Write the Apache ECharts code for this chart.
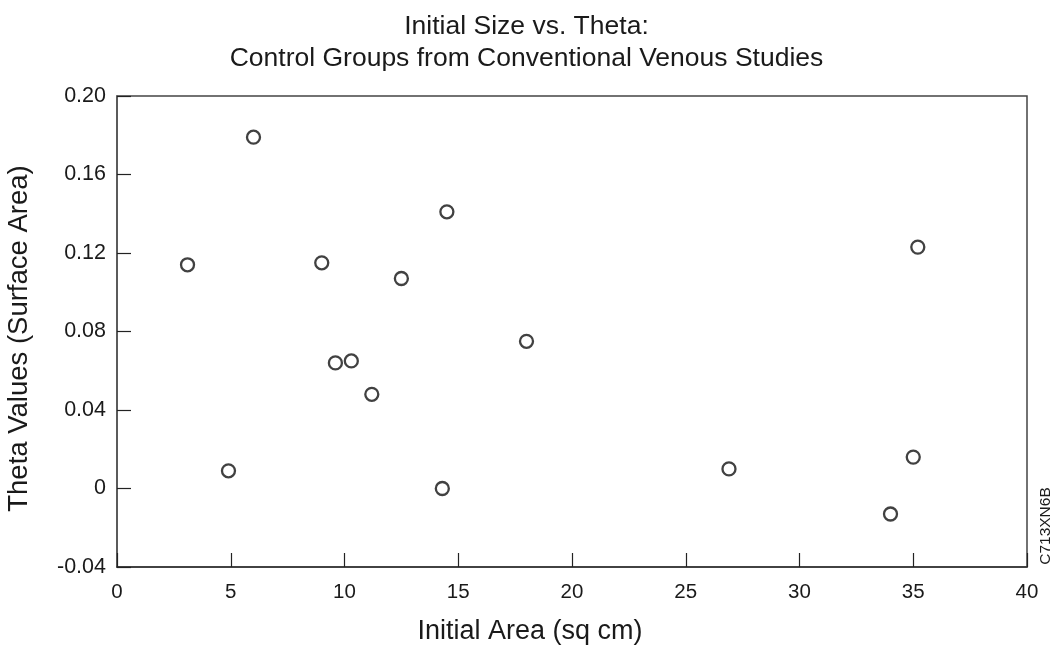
<!DOCTYPE html>
<html>
<head>
<meta charset="utf-8">
<script src="https://cdn.jsdelivr.net/npm/echarts@6/dist/echarts.min.js"></script>
<style>html,body{margin:0;padding:0;background:#fff;}#c{width:1053px;height:650px;}</style>
</head>
<body>
<div id="c"></div>
<script>
const titleLines = ["Initial Size vs. Theta:", "Control Groups from Conventional Venous Studies"];
const xName = "Initial Area (sq cm)";
const yName = "Theta Values (Surface Area)";
const sideLabel = "C713XN6B";
const initialArea = [3.1, 4.9, 6.0, 9.0, 9.6, 10.3, 11.2, 12.5, 14.5, 14.3, 18.0, 26.9, 34.0, 35.0, 35.2];
const thetaValues = [0.114, 0.009, 0.179, 0.115, 0.064, 0.065, 0.048, 0.107, 0.141, 0.0, 0.075, 0.010, -0.013, 0.016, 0.123];
const yTickLabels = {"0.2":"0.20","0.16":"0.16","0.12":"0.12","0.08":"0.08","0.04":"0.04","0":"0","-0.04":"-0.04"};

const data = initialArea.map((x, i) => [x, thetaValues[i]]);
const font = "'Liberation Sans', Arial, Helvetica, sans-serif";
const chart = echarts.init(document.getElementById('c'));
chart.setOption({
  animation: false,
  backgroundColor: '#fff',
  title: {
    text: titleLines.join('\n'),
    left: 'center', top: 6,
    textStyle: {fontFamily: font, fontSize: 26.5, fontWeight: 'normal', color: '#1a1a1a', lineHeight: 32}
  },
  grid: {left: 117, right: 26, top: 96, bottom: 83, containLabel: false, outerBoundsMode: 'none',
         show: true, borderColor: '#444', borderWidth: 1.5, backgroundColor: 'transparent'},
  xAxis: {
    type: 'value', min: 0, max: 40, interval: 5,
    name: xName, nameLocation: 'middle', nameGap: 51,
    nameTextStyle: {fontFamily: font, fontSize: 27, color: '#1a1a1a', padding: [0, 84, 0, 0]},
    axisLine: {show: true, onZero: false, lineStyle: {color: '#333', width: 1.5}},
    axisTick: {show: true, inside: true, length: 14, lineStyle: {color: '#222', width: 1.2}},
    axisLabel: {fontFamily: font, fontSize: 20.5, color: '#1a1a1a', margin: 15},
    splitLine: {show: false}
  },
  yAxis: {
    type: 'value', min: -0.04, max: 0.2, interval: 0.04,
    name: yName, nameLocation: 'middle', nameGap: 84, nameRotate: 90,
    nameTextStyle: {fontFamily: font, fontSize: 27.5, color: '#1a1a1a', padding: [0, 14, 0, 0]},
    axisLine: {show: true, onZero: false, lineStyle: {color: '#555', width: 1.5}},
    axisTick: {show: true, inside: true, length: 14, lineStyle: {color: '#222', width: 1.2}},
    axisLabel: {fontFamily: font, fontSize: 21.5, color: '#1a1a1a', margin: 11,
      formatter: v => { const k = String(Math.round(v * 100) / 100); return yTickLabels[k] !== undefined ? yTickLabels[k] : k; }},
    splitLine: {show: false}
  },
  graphic: [{
    type: 'text', x: 1046, y: 526, rotation: Math.PI / 2,
    style: {text: sideLabel, fontFamily: font, fontSize: 15.5, fill: '#1a1a1a', textAlign: 'center', textVerticalAlign: 'middle'}
  }],
  series: [{
    type: 'scatter', data: data, symbol: 'circle', symbolSize: 13,
    itemStyle: {color: '#fff', borderColor: '#111', borderWidth: 2.3}
  }]
});
</script>
</body>
</html>
